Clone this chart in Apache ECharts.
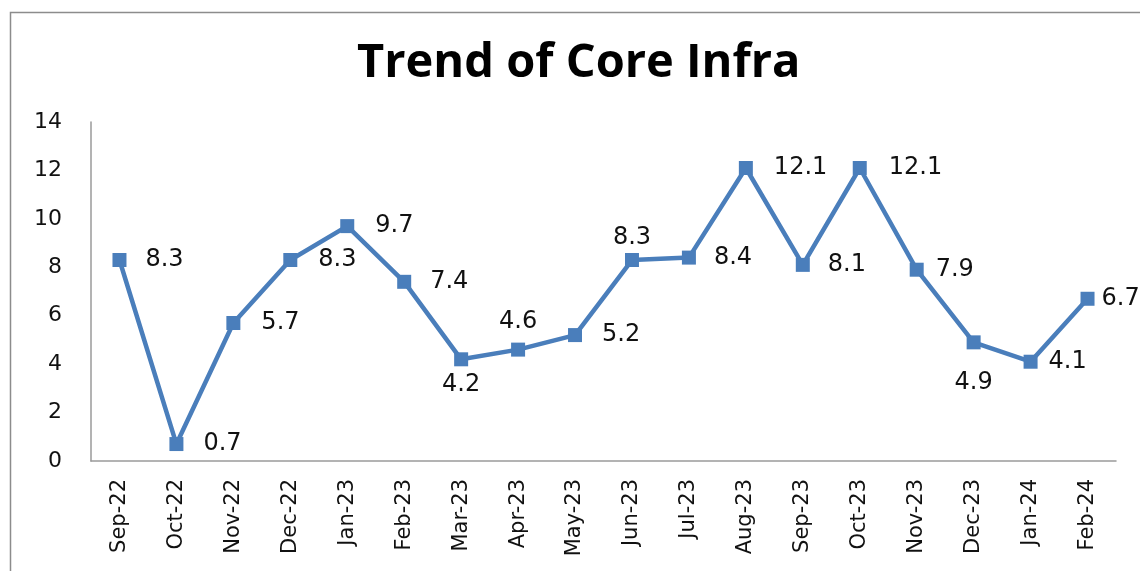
<!DOCTYPE html>
<html>
<head>
<meta charset="utf-8">
<script src="https://cdn.jsdelivr.net/npm/echarts@6/dist/echarts.min.js"></script>
<style>
  html, body { margin: 0; padding: 0; background: #fff; }
  #chart { width: 1140px; height: 571px; }
</style>
</head>
<body>
<div id="chart"></div>
<script>
  var months = ['Sep-22', 'Oct-22', 'Nov-22', 'Dec-22', 'Jan-23', 'Feb-23', 'Mar-23', 'Apr-23', 'May-23',
    'Jun-23', 'Jul-23', 'Aug-23', 'Sep-23', 'Oct-23', 'Nov-23', 'Dec-23', 'Jan-24', 'Feb-24'];
  var growth = [8.3, 0.7, 5.7, 8.3, 9.7, 7.4, 4.2, 4.6, 5.2, 8.3, 8.4, 12.1, 8.1, 12.1, 7.9, 4.9, 4.1, 6.7];
  var yTicks = [0, 2, 4, 6, 8, 10, 12, 14];

  // label placement (style only): side of the marker and gap to it
  var labelPos = ['right', 'right', 'right', 'right', 'right', 'right', 'bottom', 'top', 'right',
    'top', 'right', 'right', 'right', 'right', 'right', 'bottom', 'right', 'right'];
  var labelGap = [19, 20, 21, 21, 21, 19, 6, 9, 20, 3, 18, 21, 18, 22, 12, 21, 11, 7];

  var font = '"DejaVu Sans", sans-serif';
  var chart = echarts.init(document.getElementById('chart'));

  chart.setOption({
    backgroundColor: '#fff',
    animation: false,
    title: {
      text: 'Trend of Core Infra',
      left: 352,
      top: 35,
      textStyle: { fontFamily: '"Open Sans", sans-serif', fontSize: 47, fontWeight: 'bold', color: '#000' }
    },
    graphic: [{
      type: 'rect',
      shape: { x: 10.5, y: 12.5, width: 1140, height: 570 },
      style: { fill: 'none', stroke: '#8c8c8c', lineWidth: 1.5 },
      silent: true
    }],
    grid: { left: 91, right: 24, top: 122, bottom: 110 },
    xAxis: {
      type: 'category',
      data: months,
      boundaryGap: true,
      axisLine: { lineStyle: { color: '#9a9a9a', width: 1.5 } },
      axisTick: { show: false },
      axisLabel: {
        rotate: 90, margin: 18, interval: 0,
        fontFamily: font, fontSize: 21, color: '#111'
      }
    },
    yAxis: {
      type: 'value',
      min: yTicks[0],
      max: yTicks[yTicks.length - 1],
      interval: 2,
      splitLine: { show: false },
      axisLine: { show: true, lineStyle: { color: '#9a9a9a', width: 1.5 } },
      axisTick: { show: false },
      axisLabel: { margin: 29, fontFamily: font, fontSize: 22, color: '#111' }
    },
    series: [{
      type: 'line',
      data: growth.map(function (v, i) {
        return { value: v, label: { position: labelPos[i], distance: labelGap[i] } };
      }),
      symbol: 'rect',
      symbolSize: 14,
      lineStyle: { color: '#4a7ebb', width: 4.5 },
      itemStyle: { color: '#4a7ebb' },
      label: {
        show: true,
        fontFamily: font,
        fontSize: 24,
        color: '#111'
      }
    }]
  });
</script>
</body>
</html>
